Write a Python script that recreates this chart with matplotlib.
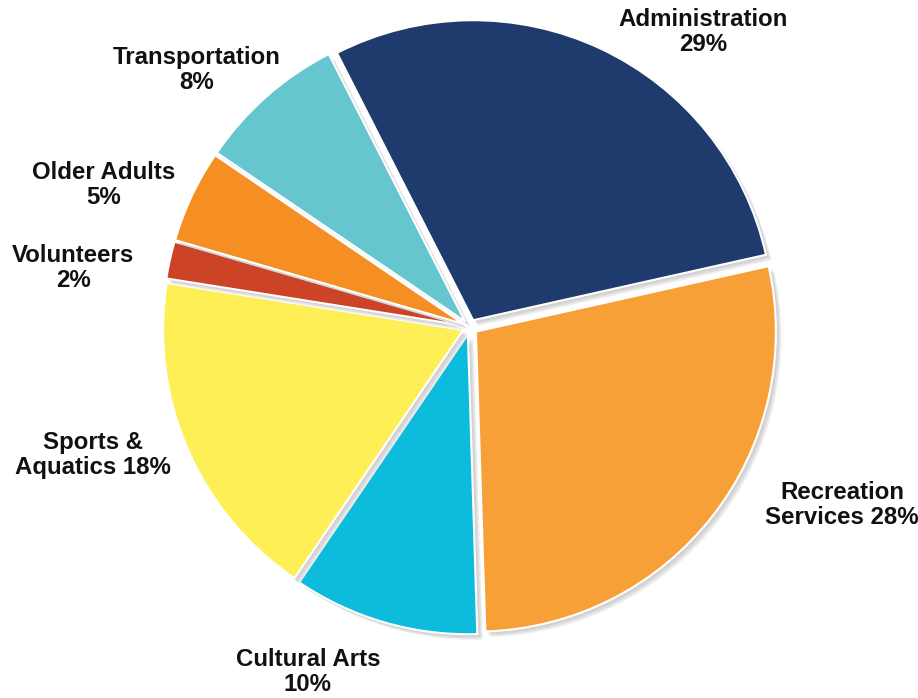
import matplotlib.pyplot as plt
import matplotlib.patheffects as pe

categories = ['Administration', 'Recreation\nServices', 'Cultural Arts', 'Sports &\nAquatics',
              'Volunteers', 'Older Adults', 'Transportation']
shares = [29, 28, 10, 18, 2, 5, 8]
colors = ['#1f3a6c', '#f7a038', '#0dbcdc', '#fdef55', '#cd4326', '#f58f23', '#65c6cf']

# label text: name and percent, some split across lines differently
label_text = [
    'Administration\n{}%'.format(shares[0]),
    'Recreation\nServices {}%'.format(shares[1]),
    'Cultural Arts\n{}%'.format(shares[2]),
    'Sports &\nAquatics {}%'.format(shares[3]),
    'Volunteers\n{}%'.format(shares[4]),
    'Older Adults\n{}%'.format(shares[5]),
    'Transportation\n{}%'.format(shares[6]),
]
label_pos = [(0.777, 0.983), (1.24, -0.593), (-0.54, -1.15), (-1.257, -0.427),
             (-1.323, 0.197), (-1.22, 0.473), (-0.91, 0.857)]

fig = plt.figure(figsize=(9.18, 6.98), dpi=100)
ax = fig.add_axes([0.159, 0.0673, 0.7059, 0.9284])

wedges, _ = ax.pie(shares, colors=colors, startangle=117, counterclock=False,
                   explode=[0.025] * len(shares),
                   wedgeprops=dict(edgecolor='white', linewidth=1.5))
# soft drop shadow built from a few faint offset copies
shadow = [pe.SimplePatchShadow(offset=(d, -d), shadow_rgbFace='#777777', alpha=0.12)
          for d in (4, 3, 2)]
for w in wedges:
    w.set_path_effects(shadow + [pe.Normal()])

for txt, (x, y) in zip(label_text, label_pos):
    ax.text(x, y, txt, ha='center', va='center', fontsize=17.3, fontweight='bold',
            family='Liberation Sans', color='#111111', linespacing=1.1)

ax.set_xlim(-1.08, 1.08)
ax.set_ylim(-1.08, 1.08)
ax.set_aspect('equal')
ax.axis('off')

plt.savefig('out.png', dpi=100)
